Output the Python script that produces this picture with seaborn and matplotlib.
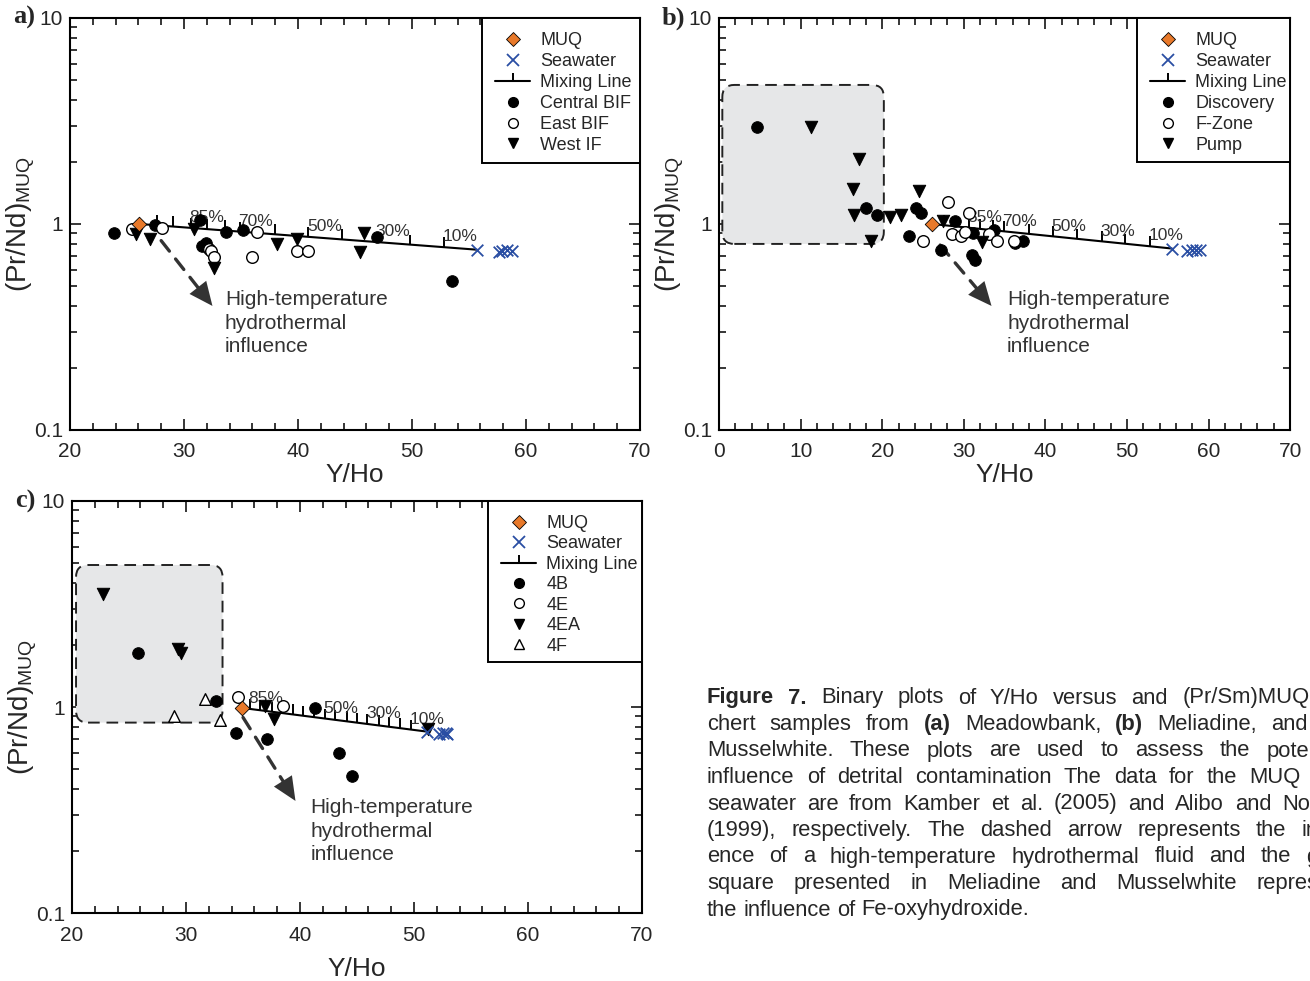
import numpy as np
import pandas as pd
import seaborn as sns
import matplotlib.pyplot as plt
from matplotlib.lines import Line2D
from matplotlib.patches import FancyBboxPatch, Rectangle

# ---------------- data ----------------
# panel a) Meadowbank
a_muq = (26.1, 1.00)
a_sw_x = [55.7, 57.6, 57.9, 58.3, 58.8]
a_sw_y = [0.75, 0.73, 0.74, 0.745, 0.74]
a_central_x = [23.9, 27.5, 31.4, 31.9, 31.55, 33.65, 35.2, 46.9, 53.5]
a_central_y = [0.90, 0.99, 1.04, 0.81, 0.78, 0.91, 0.93, 0.86, 0.53]
a_east_x = [25.4, 28.1, 32.2, 32.4, 32.6, 36.4, 36.0, 39.9, 40.85]
a_east_y = [0.95, 0.96, 0.76, 0.74, 0.69, 0.91, 0.69, 0.74, 0.74]
a_west_x = [25.8, 27.0, 30.9, 32.6, 38.2, 39.9, 45.4, 45.8]
a_west_y = [0.89, 0.85, 0.94, 0.61, 0.80, 0.85, 0.73, 0.90]

# panel b) Meliadine
b_muq = (26.1, 1.00)
b_sw_x = [55.5, 57.4, 58.0, 58.5, 58.9]
b_sw_y = [0.76, 0.74, 0.745, 0.75, 0.745]
b_disc_x = [4.7, 18.0, 19.4, 24.2, 24.8, 23.3, 27.2, 28.9, 31.1, 31.0, 31.4, 33.7, 36.3, 37.3]
b_disc_y = [2.95, 1.19, 1.11, 1.19, 1.13, 0.87, 0.75, 1.03, 0.90, 0.71, 0.67, 0.93, 0.81, 0.83]
b_fzone_x = [28.1, 25.0, 28.5, 29.7, 30.7, 30.2, 33.1, 34.1, 36.1]
b_fzone_y = [1.28, 0.83, 0.89, 0.87, 1.13, 0.91, 0.89, 0.83, 0.83]
b_pump_x = [11.3, 17.1, 16.4, 16.6, 18.6, 20.9, 22.3, 24.5, 27.5, 32.2]
b_pump_y = [2.95, 2.06, 1.47, 1.11, 0.83, 1.08, 1.11, 1.45, 1.03, 0.82]

# panel c) Musselwhite
c_muq = (34.9, 0.99)
c_sw_x = [51.1, 52.2, 52.5, 52.8, 52.9]
c_sw_y = [0.76, 0.74, 0.75, 0.75, 0.74]
c_4b_x = [25.8, 32.6, 34.4, 37.1, 41.3, 43.4, 44.6]
c_4b_y = [1.82, 1.07, 0.745, 0.70, 0.99, 0.60, 0.46]
c_4e_x = [34.6, 38.5]
c_4e_y = [1.12, 1.01]
c_4ea_x = [22.75, 29.3, 29.6, 36.9, 37.7, 51.25]
c_4ea_y = [3.52, 1.91, 1.82, 1.01, 0.87, 0.78]
c_4f_x = [31.7, 28.9, 33.0]
c_4f_y = [1.09, 0.90, 0.865]

# mixing line tick marks (% MUQ) and their Y/Ho positions
ab_mix_pct = [95, 90, 85, 80, 75, 70, 60, 50, 40, 30, 20, 10]
ab_mix_yho = [27.6, 29.0, 30.6, 32.0, 33.6, 34.9, 38.0, 40.9, 43.9, 46.9, 49.8, 52.8]
ab_mix_labels = [85, 70, 50, 30, 10]
c_mix_pct = [85, 80, 75, 70, 65, 60, 55, 50, 45, 40, 35, 30, 25, 20, 15, 10]
c_mix_yho = [35.6, 36.5, 37.5, 38.4, 39.4, 40.3, 41.2, 42.2, 43.1, 44.1, 45.0,
             45.9, 46.9, 47.8, 48.8, 49.7]
c_mix_labels = [85, 50, 30, 10]

# Fe-oxyhydroxide boxes (x0, x1, y0, y1) and arrows ((x0, y0), (x1, y1))
b_box = (0.4, 20.2, 0.80, 4.73)
c_box = (20.35, 33.2, 0.84, 4.89)
a_arrow = ((28.0, 0.83), (32.5, 0.40))
b_arrow = ((27.1, 0.79), (33.4, 0.40))
c_arrow = ((35.0, 0.89), (39.6, 0.35))
a_note = (33.6, 0.33)
b_note = (35.3, 0.33)
c_note = (40.9, 0.25)

caption = [
    'Figure 7. Binary plots of Y/Ho versus and (Pr/Sm)MUQ for',
    'chert samples from (a) Meadowbank, (b) Meliadine, and (c)',
    'Musselwhite. These plots are used to assess the potential',
    'influence of detrital contamination The data for the MUQ and',
    'seawater are from Kamber et al. (2005) and Alibo and Nozaki',
    '(1999), respectively. The dashed arrow represents the influ-',
    'ence of a high-temperature hydrothermal fluid and the gray',
    'square presented in Meliadine and Musselwhite represent',
    'the influence of Fe-oxyhydroxide.',
]
caption_bold = {'Figure', '7.', '(a)', '(b)', '(c)'}

# ---------------- styling ----------------
sns.set_style("ticks")
plt.rcParams['font.family'] = ['Liberation Sans', 'DejaVu Sans']
plt.rcParams['mathtext.fontset'] = 'custom'
plt.rcParams['mathtext.rm'] = 'Liberation Sans'
plt.rcParams['mathtext.it'] = 'Liberation Sans:italic'
plt.rcParams['mathtext.bf'] = 'Liberation Sans:bold'

ORANGE = '#e8792a'
BLUE = '#2a4ea3'
DARK = '#333333'
MS = 70

fig = plt.figure(figsize=(13.1, 9.81), dpi=100)
ax_a = fig.add_axes([0.0534, 0.5617, 0.4351, 0.4200])
ax_b = fig.add_axes([0.5489, 0.5617, 0.4359, 0.4200])
ax_c = fig.add_axes([0.0550, 0.0693, 0.4351, 0.4200])


def setup_axes(ax, xmin, xmax, label, xlabelpad=1):
    ax.set_yscale('log')
    ax.set_xlim(xmin, xmax)
    ax.set_ylim(0.1, 10)
    ax.set_xticks(np.arange(xmin, xmax + 1, 10))
    ax.set_xticks(np.arange(xmin, xmax + 1, 2), minor=True)
    ax.set_yticks([0.1, 1, 10])
    ax.set_yticklabels(['0.1', '1', '10'])
    ax.tick_params(which='both', direction='in', top=True, right=True, width=1.3,
                   labelsize=15)
    ax.tick_params(axis='x', pad=9)
    ax.tick_params(axis='y', pad=5)
    ax.tick_params(which='major', length=8)
    ax.tick_params(which='minor', length=5)
    for s in ax.spines.values():
        s.set_linewidth(1.5)
        s.set_color('black')
    ax.set_xlabel('Y/Ho', fontsize=19, labelpad=xlabelpad)
    ax.set_ylabel(r'(Pr/Nd)$_{\mathrm{MUQ}}$', fontsize=20)
    ax.yaxis.set_label_coords(-33 / ax.bbox.width, 0.5)
    ax.text(-0.1, 1.0, label, transform=ax.transAxes, fontsize=19,
            fontweight='bold', family='Liberation Serif', ha='left', va='center')


def mixing(ax, muq, sw_x, sw_y, pct, yho, labels):
    line = pd.DataFrame({'x': [muq[0], sw_x[0]], 'y': [muq[1], sw_y[0]]})
    sns.lineplot(data=line, x='x', y='y', ax=ax, color='black', lw=1.5, zorder=3)
    ty = 10 ** np.interp(yho, line['x'], np.log10(line['y']))
    ax.plot(yho, ty, ls='none', marker=2, ms=7, mew=1.4, color='black', zorder=3)
    for p, x, y in zip(pct, yho, ty):
        if p in labels:
            ax.annotate(f'{p}%', (x, y), xytext=(-1, 2), textcoords='offset points',
                        fontsize=12.5, color=DARK, ha='left', va='bottom')
    sns.scatterplot(x=[muq[0]], y=[muq[1]], ax=ax, marker='D', s=55, color=ORANGE,
                    edgecolor='black', linewidth=0.6, zorder=6)
    sns.scatterplot(x=sw_x, y=sw_y, ax=ax, marker='x', s=70, color=BLUE,
                    linewidth=1.3, zorder=6)


def group(ax, x, y, kind):
    if kind == 'filled':
        sns.scatterplot(x=x, y=y, ax=ax, marker='o', s=MS, color='black',
                        edgecolor='black', zorder=5)
    elif kind == 'open':
        sns.scatterplot(x=x, y=y, ax=ax, marker='o', s=MS, color='white',
                        edgecolor='black', linewidth=1.0, zorder=5)
    elif kind == 'down':
        sns.scatterplot(x=x, y=y, ax=ax, marker='v', s=MS + 10, color='black',
                        edgecolor='black', zorder=5)
    elif kind == 'up':
        sns.scatterplot(x=x, y=y, ax=ax, marker='^', s=MS, color='white',
                        edgecolor='black', linewidth=1.0, zorder=5)


def arrow(ax, arr, note):
    # dashed shaft, solid head
    ax.annotate('', xy=arr[1], xytext=arr[0],
                arrowprops=dict(arrowstyle='-', color=DARK, lw=2.4,
                                ls=(0, (4, 3)), shrinkA=0, shrinkB=10))
    ax.annotate('', xy=arr[1], xytext=arr[0],
                arrowprops=dict(arrowstyle='-|>,head_length=1.0,head_width=0.45',
                                color=DARK, lw=0, shrinkA=0, shrinkB=0,
                                mutation_scale=17))
    ax.text(note[0], note[1], 'High-temperature\nhydrothermal\ninfluence',
            fontsize=15, color=DARK, ha='left', va='center', linespacing=1.29)


def box(ax, b):
    x0, x1, y0, y1 = b
    tr = ax.transData + ax.transAxes.inverted()
    (ax0, ay0), (ax1, ay1) = tr.transform([(x0, y0), (x1, y1)])
    wpx = ax.bbox.width
    hpx = ax.bbox.height
    p = FancyBboxPatch((ax0, ay0), ax1 - ax0, ay1 - ay0,
                       boxstyle=f'round,pad=0,rounding_size={12 / wpx}',
                       mutation_aspect=wpx / hpx, transform=ax.transAxes,
                       facecolor='#e6e7e8', edgecolor='#222222', lw=1.4,
                       ls=(0, (6, 3.5)), zorder=1)
    ax.add_patch(p)


def legend(ax, names, kinds, frame_left, frame_bottom, spacing=0.22):
    # frame_left / frame_bottom: legend box corner in pixels from the axes' left/bottom
    handles = [
        Line2D([], [], ls='none', marker='D', ms=7, mfc=ORANGE, mec='black', mew=0.6),
        Line2D([], [], ls='none', marker='x', ms=8, color=BLUE, mew=1.3),
        Line2D([], [], color='black', lw=1.5, marker=2, ms=6, mew=1.4),
    ]
    style = {'filled': dict(marker='o', mfc='black', mec='black'),
             'open': dict(marker='o', mfc='white', mec='black'),
             'down': dict(marker='v', mfc='black', mec='black'),
             'up': dict(marker='^', mfc='white', mec='black')}
    for k in kinds:
        handles.append(Line2D([], [], ls='none', ms=7, mew=1.0, **style[k]))
    wpx = ax.bbox.width
    hpx = ax.bbox.height
    fx, fy = frame_left / wpx, frame_bottom / hpx
    ax.add_patch(Rectangle((fx, fy), 1 - fx, 1 - fy, transform=ax.transAxes,
                           facecolor='white', edgecolor='black', lw=1.4,
                           zorder=9, clip_on=False))
    lg = ax.legend(handles, ['MUQ', 'Seawater', 'Mixing Line'] + names,
                   loc='upper left', bbox_to_anchor=(fx + 13 / wpx, 1 - 14 / hpx),
                   borderaxespad=0, borderpad=0, frameon=False, fontsize=13,
                   handlelength=1.95, handletextpad=0.55, labelspacing=spacing)
    lg.set_zorder(10)


# ---------------- panel a ----------------
setup_axes(ax_a, 20, 70, 'a)')
mixing(ax_a, a_muq, a_sw_x, a_sw_y, ab_mix_pct, ab_mix_yho, ab_mix_labels)
group(ax_a, a_central_x, a_central_y, 'filled')
group(ax_a, a_east_x, a_east_y, 'open')
group(ax_a, a_west_x, a_west_y, 'down')
arrow(ax_a, a_arrow, a_note)
legend(ax_a, ['Central BIF', 'East BIF', 'West IF'], ['filled', 'open', 'down'], 412, 267)

# ---------------- panel b ----------------
setup_axes(ax_b, 0, 70, 'b)')
box(ax_b, b_box)
mixing(ax_b, b_muq, b_sw_x, b_sw_y, ab_mix_pct, ab_mix_yho, ab_mix_labels)
group(ax_b, b_disc_x, b_disc_y, 'filled')
group(ax_b, b_fzone_x, b_fzone_y, 'open')
group(ax_b, b_pump_x, b_pump_y, 'down')
arrow(ax_b, b_arrow, b_note)
legend(ax_b, ['Discovery', 'F-Zone', 'Pump'], ['filled', 'open', 'down'], 418, 268)

# ---------------- panel c ----------------
setup_axes(ax_c, 20, 70, 'c)', xlabelpad=9)
box(ax_c, c_box)
mixing(ax_c, c_muq, c_sw_x, c_sw_y, c_mix_pct, c_mix_yho, c_mix_labels)
group(ax_c, c_4b_x, c_4b_y, 'filled')
group(ax_c, c_4e_x, c_4e_y, 'open')
group(ax_c, c_4ea_x, c_4ea_y, 'down')
group(ax_c, c_4f_x, c_4f_y, 'up')
arrow(ax_c, c_arrow, c_note)
legend(ax_c, ['4B', '4E', '4EA', '4F'], ['filled', 'open', 'down', 'up'], 416, 251,
       spacing=0.19)

# ---------------- caption (justified, runs off the right edge) ----------------
renderer = fig.canvas.get_renderer()
cap_left, cap_width, cap_top, cap_step = 707, 642, 698, 26.5
W, H = fig.bbox.width, fig.bbox.height
probe = fig.text(0, 0, 'a a', fontsize=15.8)
w2 = probe.get_window_extent(renderer).width
probe.set_text('aa')
space_w = w2 - probe.get_window_extent(renderer).width
probe.remove()
for i, line in enumerate(caption):
    words = line.split(' ')
    texts, widths = [], []
    for w in words:
        t = fig.text(0, 1 - (cap_top + cap_step * i) / H, w, fontsize=15.8,
                     fontweight='bold' if w in caption_bold else 'normal',
                     ha='left', va='center')
        texts.append(t)
        widths.append(t.get_window_extent(renderer).width)
    if i < len(caption) - 1 and len(words) > 1:
        gap = (cap_width - sum(widths)) / (len(words) - 1)
    else:
        gap = space_w
    x = cap_left
    for t, w in zip(texts, widths):
        t.set_x(x / W)
        x += w + gap

fig.savefig('out.png', dpi=100)
